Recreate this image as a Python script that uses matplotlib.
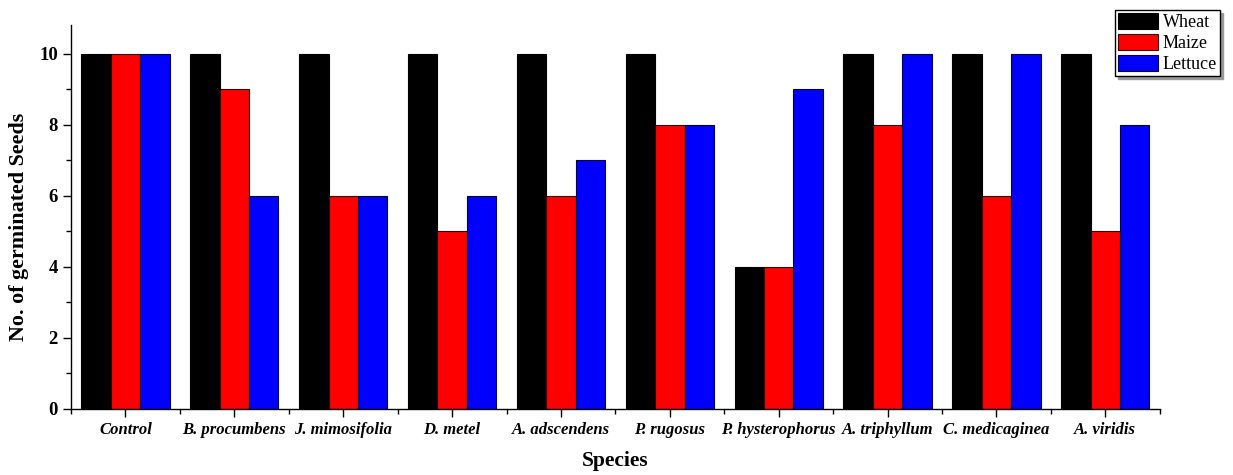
import matplotlib.pyplot as plt
import numpy as np
from matplotlib.ticker import MultipleLocator, FixedLocator

plt.rcParams['font.family'] = ['Liberation Serif', 'DejaVu Serif']

# --- Data ---
species = ['Control', 'B. procumbens', 'J. mimosifolia', 'D. metel', 'A. adscendens',
           'P. rugosus', 'P. hysterophorus', 'A. triphyllum', 'C. medicaginea', 'A. viridis']
wheat = [10, 10, 10, 10, 10, 10, 4, 10, 10, 10]
maize = [10, 9, 6, 5, 6, 8, 4, 8, 6, 5]
lettuce = [10, 6, 6, 6, 7, 8, 9, 10, 10, 8]

# --- Figure ---
fig = plt.figure(figsize=(12.33, 4.75), dpi=100)
ax = fig.add_axes([0.0576, 0.139, 0.883, 0.808])

x = np.arange(len(species))
w = 0.27
ax.bar(x - w, wheat, w, color='black', edgecolor='black', linewidth=0.8, label='Wheat')
ax.bar(x, maize, w, color='red', edgecolor='#300000', linewidth=0.8, label='Maize')
ax.bar(x + w, lettuce, w, color='blue', edgecolor='#000030', linewidth=0.8, label='Lettuce')

# --- Axes styling ---
ax.set_xlim(-0.5, len(species) - 0.5)
ax.set_ylim(0, 10.8)
ax.spines['top'].set_visible(False)
ax.spines['right'].set_visible(False)
for s in ('left', 'bottom'):
    ax.spines[s].set_linewidth(1.0)

ax.set_xticks(x)
ax.set_xticklabels(species, fontsize=12, fontweight='bold', fontstyle='italic')
ax.xaxis.set_minor_locator(FixedLocator(np.arange(-0.5, len(species), 1.0)))
ax.yaxis.set_major_locator(MultipleLocator(2))
ax.yaxis.set_minor_locator(MultipleLocator(1))
ax.tick_params(axis='both', which='major', direction='out', length=6, width=1)
ax.tick_params(axis='both', which='minor', direction='out', length=3.5, width=1)
ax.tick_params(axis='y', labelsize=13.5)
for lbl in ax.get_yticklabels():
    lbl.set_fontweight('bold')

ax.set_xlabel('Species', fontsize=15.5, fontweight='bold', labelpad=9)
ax.set_ylabel('No. of germinated Seeds', fontsize=15.8, fontweight='bold')
ax.yaxis.set_label_coords(-0.039, 0.474)

# --- Legend ---
leg = fig.legend(loc='upper right', bbox_to_anchor=(0.9895, 0.979), fontsize=13,
                 frameon=True, fancybox=False,
                 shadow={'color': '0.6', 'alpha': 1.0}, borderpad=0.17,
                 handlelength=2.2, handleheight=0.94, handletextpad=0.28, labelspacing=0.18,
                 borderaxespad=0)
leg.get_frame().set_edgecolor('black')
leg.get_frame().set_linewidth(1.0)

fig.savefig('out.png', dpi=100)
